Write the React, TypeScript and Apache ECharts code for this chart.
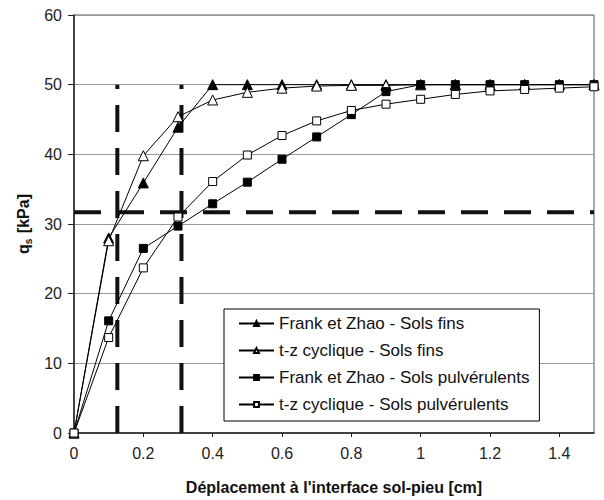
import React, { useEffect, useRef } from "react";
import * as echarts from "echarts";

const displacement = [0, 0.1, 0.2, 0.3, 0.4, 0.5, 0.6, 0.7, 0.8, 0.9, 1.0, 1.1, 1.2, 1.3, 1.4, 1.5];
const frankFins = [0, 28, 35.9, 43.9, 50, 50, 50, 50, 50, 50, 50, 50, 50, 50, 50, 50];
const tzFins = [0, 27.6, 39.8, 45.4, 47.8, 48.9, 49.5, 49.8, 49.9, 49.9, 50, 50, 50, 50, 50, 50];
const frankPulv = [0, 16.1, 26.5, 29.7, 32.9, 36, 39.3, 42.5, 45.7, 49, 50, 50, 50, 50, 50, 50];
const tzPulv = [0, 13.7, 23.7, 31, 36.1, 39.9, 42.7, 44.8, 46.3, 47.2, 47.9, 48.6, 49.1, 49.3, 49.5, 49.7];

const seriesNames = [
  "Frank et Zhao - Sols fins",
  "t-z cyclique - Sols fins",
  "Frank et Zhao - Sols pulvérulents",
  "t-z cyclique - Sols pulvérulents",
];

const vLine1 = [[0.125, 0], [0.125, 50]];
const vLine2 = [[0.31, 0], [0.31, 50]];
const hLine = [[0, 31.7], [1.5, 31.7]];

const FONT = "'Liberation Sans', Arial, sans-serif";

function pairs(ys: number[]) {
  return displacement.map((x, i) => [x, ys[i]]);
}

export default function App() {
  const ref = useRef<HTMLDivElement>(null);
  useEffect(() => {
    if (!ref.current) return;
    const chart = echarts.init(ref.current, null, { renderer: "svg" });
    const lineStyle = { color: "#000", width: 1 };
    const mkSeries = (name: string, ys: number[], symbol: string, size: number, filled: boolean) => ({
      name,
      type: "line",
      data: pairs(ys),
      symbol,
      symbolSize: size,
      lineStyle,
      itemStyle: { color: filled ? "#000" : "#fff", borderColor: "#000", borderWidth: 1 },
      z: 3,
    });
    const dashSeries = (data: number[][]) => ({
      type: "line",
      data,
      symbol: "none",
      lineStyle: { color: "#111", width: 4, type: [27, 16] },
      z: 2,
      silent: true,
    });
    chart.setOption({
      animation: false,
      backgroundColor: "#fff",
      textStyle: { fontFamily: FONT },
      grid: {
        left: 74,
        right: 10,
        top: 15,
        bottom: 66,
        show: true,
        borderColor: "#555",
        borderWidth: 1,
        backgroundColor: "transparent",
      },
      legend: {
        data: seriesNames,
        orient: "vertical",
        left: 224,
        top: 309,
        backgroundColor: "#fff",
        borderColor: "#000",
        borderWidth: 1,
        borderRadius: 0,
        padding: [6, 10, 8, 14],
        itemWidth: 35,
        itemHeight: 6,
        itemGap: 10,
        textStyle: { fontFamily: FONT, fontSize: 17, color: "#111", lineHeight: 16 },
      },
      xAxis: {
        type: "value",
        min: 0,
        max: 1.5,
        interval: 0.2,
        name: "Déplacement à l'interface sol-pieu [cm]",
        nameLocation: "middle",
        nameGap: 46,
        nameTextStyle: { fontFamily: FONT, fontSize: 16, fontWeight: "bold", color: "#111" },
        axisLine: { show: true, lineStyle: { color: "#222", width: 1.5 } },
        axisTick: { show: true, length: 4, lineStyle: { color: "#222" } },
        axisLabel: { fontFamily: FONT, fontSize: 16, color: "#222", margin: 12, showMaxLabel: false },
        splitLine: { show: false },
      },
      yAxis: {
        type: "value",
        min: 0,
        max: 60,
        interval: 10,
        name: "{b|q}{s|s}{b| [kPa]}",
        nameLocation: "middle",
        nameGap: 36,
        nameTextStyle: {
          fontFamily: FONT,
          color: "#111",
          rich: {
            b: { fontFamily: FONT, fontSize: 16, fontWeight: "bold", color: "#111", lineHeight: 20, verticalAlign: "middle" },
            s: { fontFamily: FONT, fontSize: 10, fontWeight: "bold", color: "#111", lineHeight: 20, verticalAlign: "bottom", padding: [0, 1, 0, 0] },
          },
        },
        axisLine: { show: true, lineStyle: { color: "#222", width: 1.5 } },
        axisTick: { show: true, length: 6, lineStyle: { color: "#222" } },
        axisLabel: { fontFamily: FONT, fontSize: 16, color: "#222", margin: 12 },
        splitLine: { show: true, lineStyle: { color: "#999", width: 1 } },
      },
      series: [
        dashSeries(vLine1),
        dashSeries(vLine2),
        dashSeries(hLine),
        mkSeries(seriesNames[0], frankFins, "triangle", 10, true),
        mkSeries(seriesNames[1], tzFins, "triangle", 10, false),
        mkSeries(seriesNames[2], frankPulv, "rect", 8, true),
        mkSeries(seriesNames[3], tzPulv, "rect", 8, false),
      ],
    });
    return () => chart.dispose();
  }, []);
  return (
    <div
      ref={ref}
      style={{ position: "fixed", left: 0, top: 0, width: 604, height: 500, background: "#fff" }}
    />
  );
}
